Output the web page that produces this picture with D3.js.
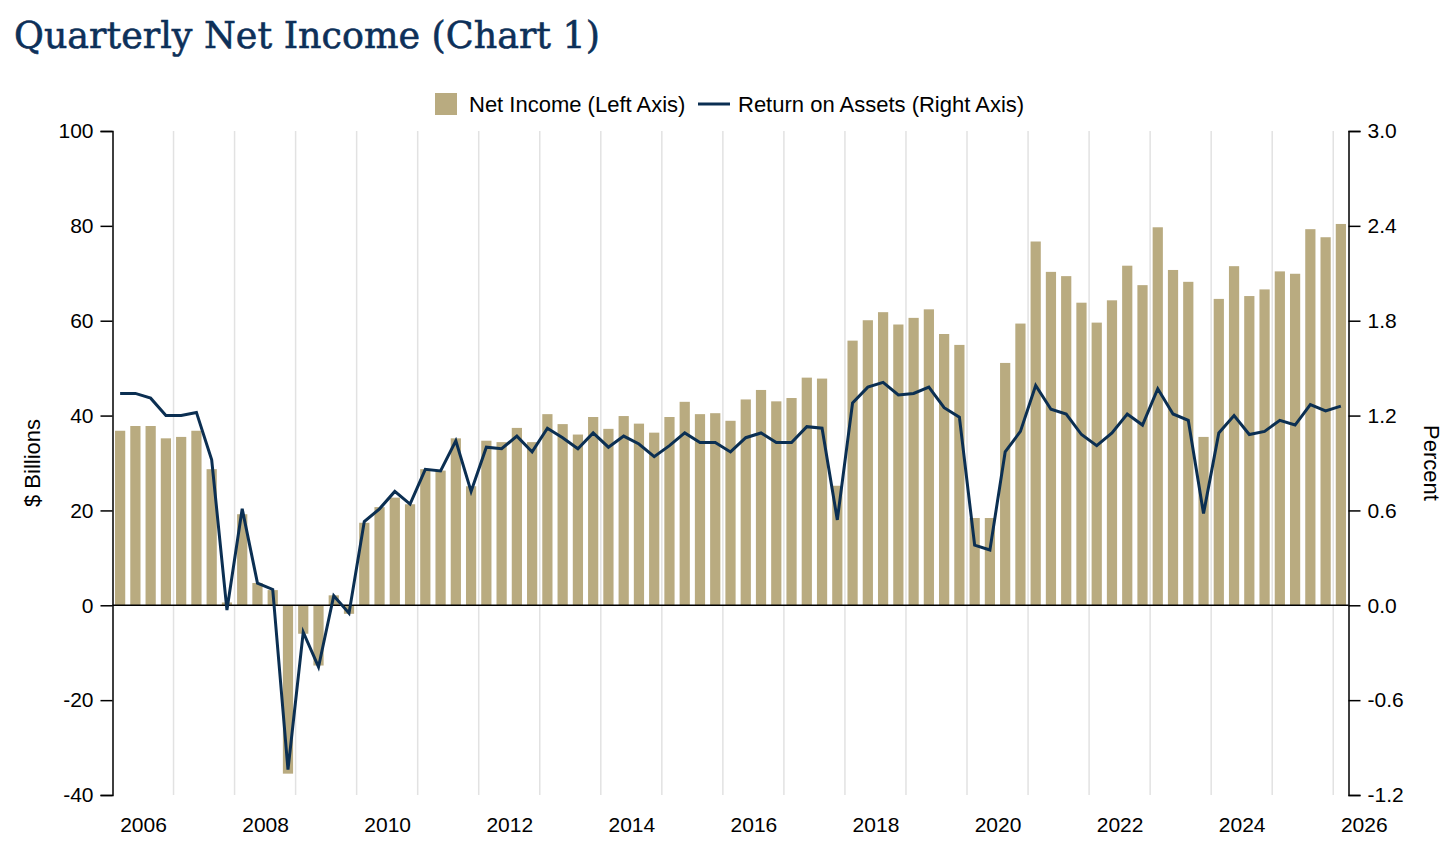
<!DOCTYPE html>
<html>
<head>
<meta charset="utf-8">
<script src="https://cdn.jsdelivr.net/npm/d3@7"></script>
<style>
  body { margin: 0; background: #fff; }
  svg text { font-family: "Liberation Sans", Arial, Helvetica, sans-serif; }
</style>
</head>
<body>
<svg id="chart" width="1456" height="846"></svg>
<script>
// net income, $ billions, 2006 Q1 onward
const netIncome = [
  36.8, 37.8, 37.8, 35.2,
  35.5, 36.8, 28.7, 0.6,
  19.2, 4.7, 3.2, -35.5,
  -6.0, -12.7, 2.1, -1.8,
  17.4, 20.7, 22.7, 21.3,
  28.7, 28.4, 35.2, 25.1,
  34.7, 34.4, 37.4, 34.4,
  40.3, 38.2, 36.0, 39.7,
  37.2, 39.9, 38.3, 36.4,
  39.7, 42.9, 40.3, 40.5,
  38.9, 43.4, 45.4, 43.0,
  43.7, 48.0, 47.8, 25.2,
  55.8, 60.1, 61.8, 59.2,
  60.6, 62.4, 57.2, 54.9,
  18.4, 18.4, 51.1, 59.4,
  76.7, 70.3, 69.4, 63.8,
  59.6, 64.3, 71.6, 67.5,
  79.7, 70.7, 68.2, 35.5,
  64.6, 71.5, 65.2, 66.6,
  70.4, 69.9, 79.3, 77.6,
  80.4
]

// return on assets, percent
const roa = [
  1.34, 1.34, 1.31, 1.20,
  1.20, 1.22, 0.92, -0.03,
  0.61, 0.14, 0.10, -1.04,
  -0.17, -0.39, 0.06, -0.05,
  0.53, 0.61, 0.72, 0.64,
  0.86, 0.85, 1.04, 0.72,
  1.00, 0.99, 1.07, 0.97,
  1.12, 1.06, 0.99, 1.09,
  1.00, 1.07, 1.02, 0.94,
  1.01, 1.09, 1.03, 1.03,
  0.97, 1.06, 1.09, 1.03,
  1.03, 1.13, 1.12, 0.54,
  1.28, 1.38, 1.41, 1.33,
  1.34, 1.38, 1.25, 1.19,
  0.38, 0.35, 0.97, 1.10,
  1.39, 1.24, 1.21, 1.08,
  1.01, 1.09, 1.21, 1.14,
  1.37, 1.21, 1.17, 0.58,
  1.09, 1.20, 1.08, 1.10,
  1.17, 1.14, 1.27, 1.23,
  1.26
]

const quarters = netIncome.map((d, i) => `${2006 + Math.floor(i / 4)} Q${i % 4 + 1}`)
const yearLabels = ["2006", "2008", "2010", "2012", "2014", "2016", "2018", "2020", "2022", "2024", "2026"]
const gridYears = d3.range(2007, 2027)
const leftTicks = [-40, -20, 0, 20, 40, 60, 80, 100]
const rightTicks = [-1.2, -0.6, 0, 0.6, 1.2, 1.8, 2.4, 3.0]

const barColor = "#b9ab80"
const lineColor = "#0b2f52"
const margin = {top: 131, bottom: 795, left: 112.5, right: 1348.5}

const svg = d3.select("#chart")

let scales = {
  x: d3.scaleBand().domain(quarters).range([margin.left, margin.right])
      .paddingInner(0.33).paddingOuter(0.165),
  year: d3.scaleLinear().domain([2006, 2006 + quarters.length / 4])
      .range([margin.left, margin.right]),
  yl: d3.scaleLinear().domain([-40, 100]).range([margin.bottom, margin.top]),
  yr: d3.scaleLinear().domain([-1.2, 3.0]).range([margin.bottom, margin.top])
}

// title
svg.append("text")
  .attr("x", 14).attr("y", 48)
  .style("font-family", "'DejaVu Serif', serif")
  .style("font-size", "38px")
  .attr("fill", "#0d3059")
  .attr("stroke", "#0d3059").attr("stroke-width", 0.6)
  .attr("textLength", 586).attr("lengthAdjust", "spacingAndGlyphs")
  .text("Quarterly Net Income (Chart 1)")

// gridlines at year boundaries
svg.append("g")
  .selectAll("line")
  .data(gridYears).enter()
  .append("line")
  .attr("x1", d => scales.year(d)).attr("x2", d => scales.year(d))
  .attr("y1", margin.top).attr("y2", margin.bottom)
  .attr("stroke", "#e2e2e2").attr("stroke-width", 1.5)

// bars
svg.append("g")
  .selectAll("rect")
  .data(netIncome).enter()
  .append("rect")
  .attr("x", (d, i) => scales.x(quarters[i]))
  .attr("width", scales.x.bandwidth())
  .attr("y", d => scales.yl(Math.max(0, d)))
  .attr("height", d => Math.abs(scales.yl(d) - scales.yl(0)))
  .attr("fill", barColor)

// zero line
svg.append("line")
  .attr("x1", margin.left).attr("x2", margin.right)
  .attr("y1", scales.yl(0)).attr("y2", scales.yl(0))
  .attr("stroke", "#000").attr("stroke-width", 1.5)

// roa line
let path_generator = d3.line()
  .x((d, i) => scales.x(quarters[i]) + scales.x.bandwidth() / 2)
  .y(d => scales.yr(d))

svg.append("path")
  .datum(roa)
  .attr("d", path_generator)
  .attr("fill", "none")
  .attr("stroke", lineColor)
  .attr("stroke-width", 3)

// axes
let left_axis = d3.axisLeft(scales.yl).tickValues(leftTicks)
  .tickSize(12).tickPadding(7).tickFormat(d => String(d))
svg.append("g")
  .attr("transform", `translate(${margin.left},0)`)
  .call(left_axis)

let right_axis = d3.axisRight(scales.yr).tickValues(rightTicks)
  .tickSize(12).tickPadding(7).tickFormat(d => d.toFixed(1))
svg.append("g")
  .attr("transform", `translate(${margin.right},0)`)
  .call(right_axis)

let x_axis = d3.axisBottom(scales.year)
  .tickValues(yearLabels.map(d => +d + 0.5))
  .tickFormat((d, i) => yearLabels[i])
  .tickSize(0).tickPadding(22)
svg.append("g")
  .attr("transform", `translate(0,${margin.bottom})`)
  .call(x_axis)
  .call(g => g.select(".domain").remove())

svg.selectAll(".tick text")
  .style("font-family", "'Liberation Sans', Arial, sans-serif")
  .style("font-size", "21px")
  .attr("fill", "#000")
svg.selectAll(".tick line, .domain").attr("stroke", "#000").attr("stroke-width", 1.5)

// axis titles
svg.append("text")
  .attr("transform", `translate(40,${(margin.top + margin.bottom) / 2}) rotate(-90)`)
  .attr("text-anchor", "middle")
  .style("font-size", "22px")
  .text("$ Billions")

svg.append("text")
  .attr("transform", `translate(1424,${(margin.top + margin.bottom) / 2}) rotate(90)`)
  .attr("text-anchor", "middle")
  .style("font-size", "22px")
  .text("Percent")

// legend
let legend = svg.append("g").attr("transform", "translate(435,104)")
legend.append("rect")
  .attr("x", 0).attr("y", -11).attr("width", 22).attr("height", 22)
  .attr("fill", barColor)
legend.append("text")
  .attr("x", 34).attr("y", 8)
  .style("font-size", "22px")
  .text("Net Income (Left Axis)")
legend.append("line")
  .attr("x1", 263).attr("x2", 295).attr("y1", 0).attr("y2", 0)
  .attr("stroke", lineColor).attr("stroke-width", 3)
legend.append("text")
  .attr("x", 303).attr("y", 8)
  .style("font-size", "22px")
  .text("Return on Assets (Right Axis)")
</script>
</body>
</html>
